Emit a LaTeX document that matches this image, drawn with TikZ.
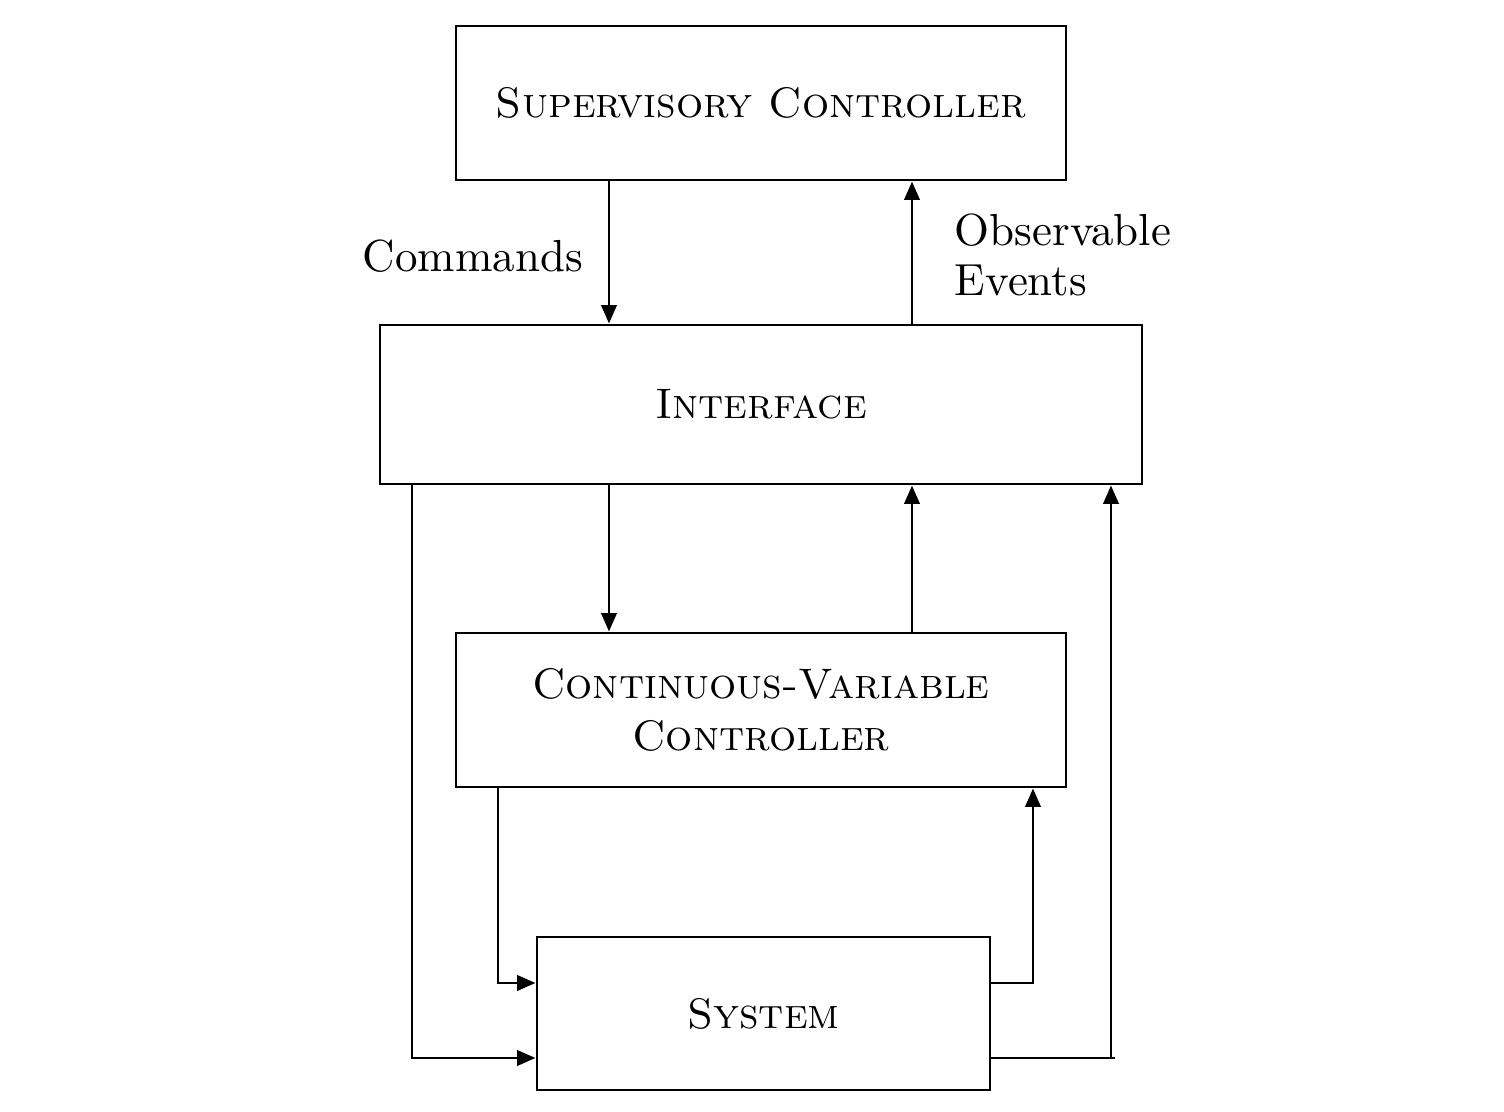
\documentclass[tikz,border=0pt]{standalone}
\usetikzlibrary{arrows.meta}
\begin{document}
\begin{tikzpicture}[x=0.2225pt,y=-0.2225pt,
  box/.style={draw,line width=0.65pt,inner sep=0pt,align=center,font=\fontsize{9.5}{11.5}\selectfont\scshape},
  arr/.style={line width=0.65pt,-{Triangle[length=4.1pt,width=3.4pt]}},
  ln/.style={line width=0.65pt},
  lbl/.style={inner sep=0pt,align=left,anchor=west}]
\useasboundingbox (0,0) rectangle (1504,1112);
\node[box,minimum width=610*0.2225pt,minimum height=154*0.2225pt] (sc) at (761,103) {Supervisory Controller};
\node[box,minimum width=762*0.2225pt,minimum height=159*0.2225pt] (if) at (761,404.5) {Interface};
\node[box,minimum width=610*0.2225pt,minimum height=154*0.2225pt] (cv) at (761,710) {Continuous-Variable\\Controller};
\node[box,minimum width=453*0.2225pt,minimum height=153*0.2225pt] (sys) at (763.5,1013.5) {System};
\coordinate (xa) at (609,0);
\coordinate (xb) at (912,0);
\coordinate (xl) at (412,0);
\coordinate (xc) at (498,0);
\coordinate (xr) at (1033,0);
\coordinate (xf) at (1111,0);
\coordinate (ya) at (0,983);
\coordinate (yb) at (0,1058);
\coordinate (xe) at (1115,1058);
\draw[arr] (sc.south -| xa) -- (if.north -| xa);
\draw[arr] (if.north -| xb) -- (sc.south -| xb);
\draw[arr] (if.south -| xa) -- (cv.north -| xa);
\draw[arr] (cv.north -| xb) -- (if.south -| xb);
\draw[arr] (if.south -| xl) |- (sys.west |- yb);
\draw[arr] (cv.south -| xc) |- (sys.west |- ya);
\draw[arr] (sys.east |- ya) -| (cv.south -| xr);
\draw[ln] (sys.east |- yb) -- (xe);
\draw[arr] (xf |- yb) -- (if.south -| xf);
\node[lbl] (cmd) at (362,256) {Commands};
\node[lbl] (obs) at (954,255) {Observable\\[-1pt]Events};
\end{tikzpicture}
\end{document}
